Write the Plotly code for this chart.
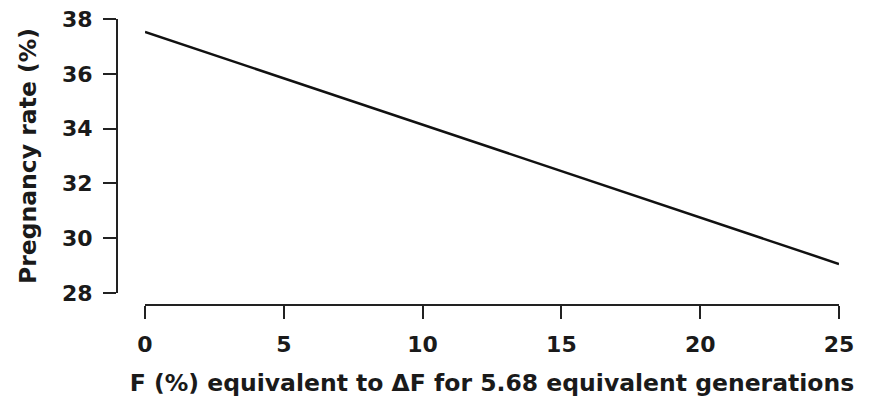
import plotly.graph_objects as go

x_vals = [0, 25]
y_vals = [37.53, 29.06]
x_ticks = [0, 5, 10, 15, 20, 25]
y_ticks = [28, 30, 32, 34, 36, 38]
x_title = "F (%) equivalent to ΔF for 5.68 equivalent generations"
y_title = "Pregnancy rate (%)"

# page body has an 8px margin, so the figure is offset by (8, 8)
W, H = 856, 390
L, R, T, B = 109, 25, 11, 93
pw = W - L - R
ph = H - T - B

tick_font = dict(family="DejaVu Sans, Liberation Sans, sans-serif", size=22, color="#1a1a1a", weight="bold")
title_font = dict(family="DejaVu Sans, Liberation Sans, sans-serif", size=23.5, color="#1a1a1a", weight="bold")

fig = go.Figure()
fig.add_trace(go.Scatter(x=x_vals, y=y_vals, mode="lines",
                         line=dict(color="#111111", width=2.5), showlegend=False))

fig.update_layout(
    width=W, height=H,
    margin=dict(l=L, r=R, t=T, b=B, pad=0),
    paper_bgcolor="white", plot_bgcolor="white",
    font=tick_font,
    xaxis=dict(domain=[(137 - L) / pw, 1], anchor="free", position=0,
               range=[0, 25], tickvals=x_ticks, ticks="outside", ticklen=13,
               tickwidth=2, tickcolor="#222", showline=True, linewidth=2,
               linecolor="#222", showgrid=False, zeroline=False, automargin=False,
               ticklabelstandoff=7, ticklabeloverflow="allow",
               tickfont=tick_font, title=dict(text=x_title, font=title_font, standoff=17)),
    yaxis=dict(domain=[(297 - 285) / ph, 1], anchor="free", position=0,
               range=[28, 38], tickvals=y_ticks, ticks="outside", ticklen=13,
               tickwidth=2, tickcolor="#222", showline=True, linewidth=2,
               linecolor="#222", showgrid=False, zeroline=False, automargin=False,
               ticklabelstandoff=6, ticklabeloverflow="allow",
               tickfont=tick_font, title=dict(text=y_title, font=title_font, standoff=18)),
)

fig.write_html("out.html")
